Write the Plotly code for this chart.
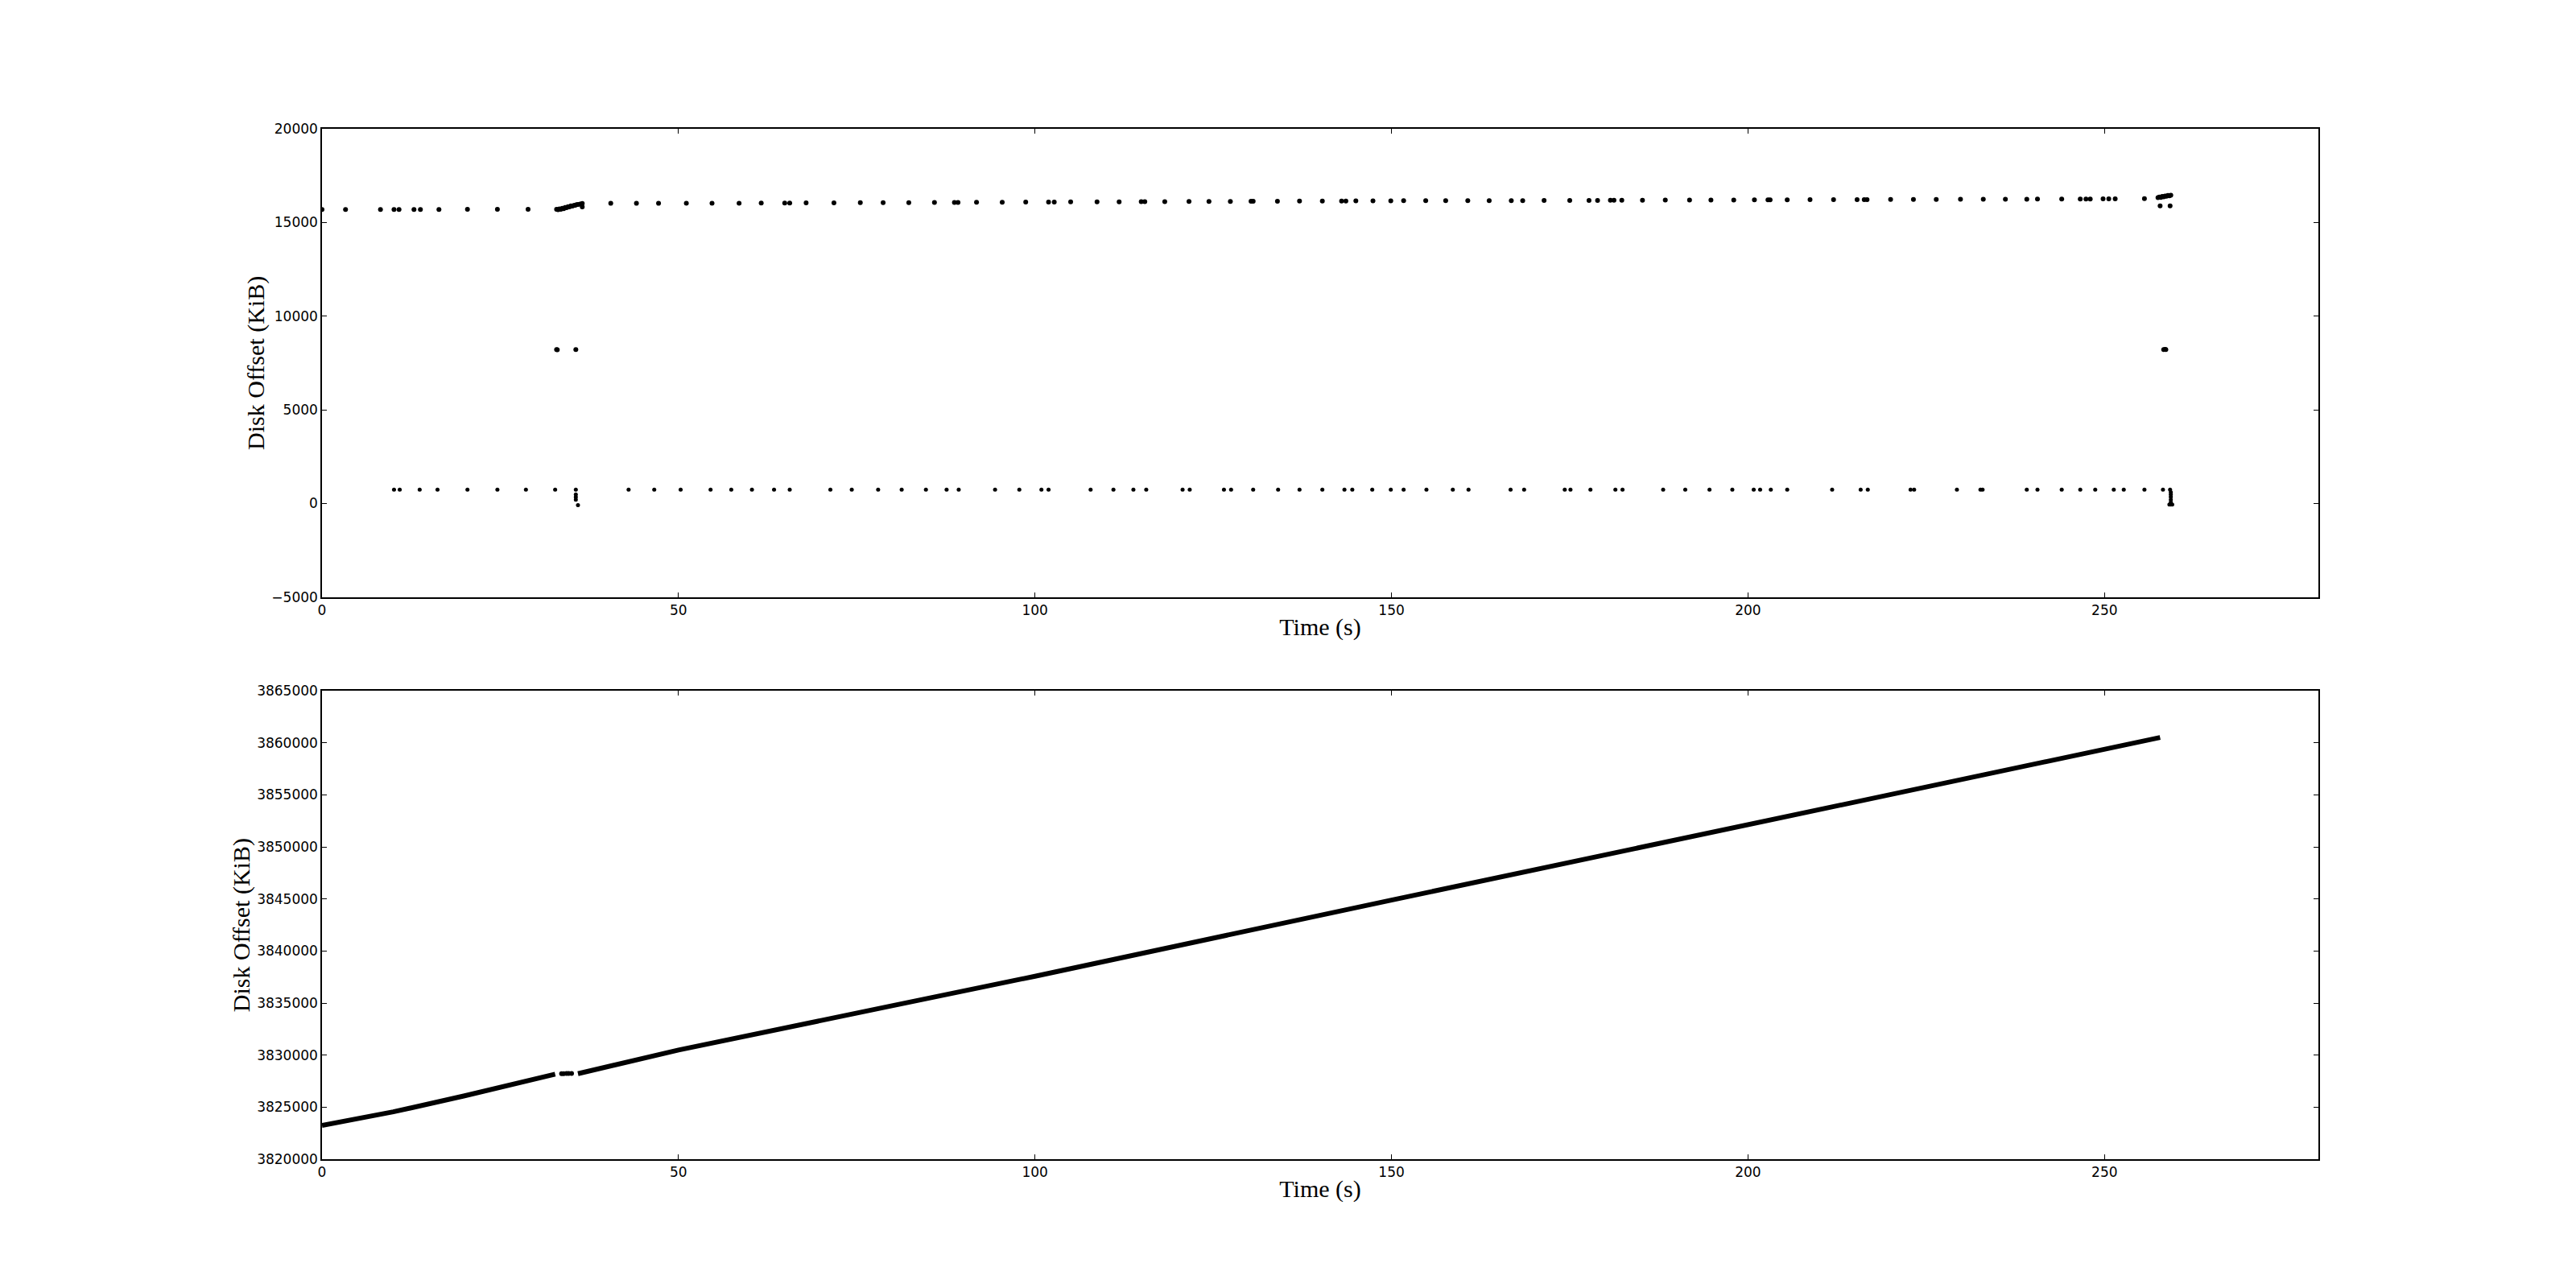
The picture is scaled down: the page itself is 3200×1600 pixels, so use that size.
import plotly.graph_objects as go

# ---------------- top panel data (Time s, Disk offset KiB) ----------------
upper_t = [0, 3.3, 8.2, 10.1, 10.8, 12.9, 13.8, 16.4, 20.4, 24.6, 28.9,
           32.9, 33.1, 33.3, 33.5, 33.7, 33.9, 34.1, 34.3, 34.5, 34.7, 34.9, 35.1,
           35.3, 35.5, 35.7, 35.9, 36.2, 36.5, 36.5,
           40.5, 44.1, 47.2, 51.1, 54.7, 58.5, 61.6, 64.9, 65.6, 67.9, 71.8, 75.5,
           78.7, 82.3, 85.9, 88.7, 89.2, 91.8, 95.4, 98.7, 101.9, 102.7, 105.0,
           108.7, 111.8, 114.9, 115.4, 118.2, 121.6, 124.4, 127.4, 130.3, 130.6,
           134.0, 137.1, 140.3, 143.0, 143.6, 145.0, 147.4, 149.9, 151.7, 154.8,
           157.6, 160.7, 163.7, 166.8, 168.4, 171.4, 175.0, 177.7, 178.9, 180.7,
           181.2, 182.3, 185.2, 188.4, 191.8, 194.8, 198.0, 200.9, 202.8, 203.1,
           205.5, 208.7, 212.0, 215.3, 216.3, 216.7, 220.0, 223.2, 226.4, 229.8,
           233.0, 236.1, 239.1, 240.6, 244.0, 246.6, 247.4, 248.0, 249.8, 250.6,
           251.5, 255.6,
           257.5, 257.7, 257.9, 258.1, 258.3, 258.5, 258.7, 258.9, 259.1, 259.3,
           257.8, 259.2]
upper_kib = [15690, 15690, 15690, 15690, 15690, 15690, 15690, 15690, 15700, 15700, 15700,
             15700, 15680, 15720, 15700, 15760, 15740, 15800, 15790, 15840, 15830, 15880, 15870,
             15910, 15920, 15950, 15960, 15980, 16010, 15830,
             16020, 16020, 16020, 16030, 16030, 16030, 16040, 16040, 16040, 16050, 16050, 16060,
             16060, 16060, 16070, 16070, 16070, 16080, 16080, 16090, 16090, 16090, 16100,
             16100, 16100, 16110, 16110, 16110, 16120, 16120, 16120, 16130, 16130,
             16130, 16140, 16140, 16140, 16140, 16150, 16150, 16150, 16160, 16160,
             16160, 16170, 16170, 16170, 16170, 16180, 16180, 16180, 16180, 16190,
             16190, 16190, 16190, 16200, 16200, 16200, 16200, 16210, 16210, 16210,
             16210, 16220, 16220, 16220, 16220, 16220, 16230, 16230, 16230, 16240,
             16240, 16240, 16240, 16250, 16250, 16250, 16250, 16250, 16260, 16260,
             16260, 16270,
             16330, 16360, 16340, 16390, 16370, 16410, 16400, 16440, 16420, 16460,
             15880, 15880]

mid_t = [32.9, 33.0, 35.6, 258.3, 258.5, 258.6]
mid_kib = [8220, 8200, 8220, 8210, 8230, 8220]

lower_t = [10.1, 10.9, 13.7, 16.2, 20.4, 24.6, 28.6, 32.7, 35.6, 43.0, 46.6, 50.3,
           54.5, 57.4, 60.3, 63.4, 65.6, 71.3, 74.3, 78.0, 81.3, 84.7, 87.6, 89.3,
           94.4, 97.8, 100.9, 101.9, 107.8, 111.0, 113.8, 115.6, 120.7, 121.7,
           126.5, 127.5, 130.6, 134.1, 137.1, 140.3, 143.4, 144.5, 147.3, 149.9,
           151.7, 154.9, 158.6, 160.8, 166.7, 168.6, 174.3, 175.1, 177.9, 181.4,
           182.4, 188.1, 191.2, 194.6, 197.8, 200.8, 201.7, 203.2, 205.5, 211.8,
           215.8, 216.8, 222.8, 223.3, 229.3, 232.6, 232.9, 239.1, 240.6, 244.0,
           246.6, 248.7, 251.3, 252.7, 255.6, 258.2, 259.2,
           35.6, 35.6, 35.6, 35.9,
           259.3, 259.3, 259.3, 259.3, 259.3, 259.1, 259.3, 259.5]
lower_kib = [740] * 81 + [480, 340, 200, -90,
                          600, 480, 350, 200, 60, -60, -60, -60]

# ---------------- bottom panel data ----------------
seq1_t = [0, 5, 10, 20, 22.6, 30, 32.7]
seq1_kib = [3823250, 3823900, 3824550, 3826090, 3826500, 3827680, 3828170]
gap_t = [33.6, 33.9, 34.3, 34.6, 35.0]
gap_kib = [3828220, 3828220, 3828230, 3828230, 3828230]
seq2_t = [35.9, 50, 79, 100, 150, 200, 225.9, 250, 257.8]
seq2_kib = [3828220, 3830490, 3834610, 3837580, 3844900, 3852100, 3855940, 3859330, 3860520]

x_ticks = [0, 50, 100, 150, 200, 250]

BLACK = "#000000"
dot = dict(color=BLACK, size=6, line=dict(width=0))

fig = go.Figure()
fig.add_trace(go.Scatter(x=upper_t, y=upper_kib, mode="markers", marker=dot,
                         xaxis="x", yaxis="y", showlegend=False))
fig.add_trace(go.Scatter(x=mid_t, y=mid_kib, mode="markers", marker=dot,
                         xaxis="x", yaxis="y", showlegend=False))
fig.add_trace(go.Scatter(x=lower_t, y=lower_kib, mode="markers", marker=dict(color=BLACK, size=5),
                         xaxis="x", yaxis="y", showlegend=False))

fig.add_trace(go.Scatter(x=seq1_t, y=seq1_kib, mode="lines", line=dict(color=BLACK, width=6),
                         xaxis="x2", yaxis="y2", showlegend=False))
fig.add_trace(go.Scatter(x=gap_t, y=gap_kib, mode="markers", marker=dict(color=BLACK, size=6),
                         xaxis="x2", yaxis="y2", showlegend=False))
fig.add_trace(go.Scatter(x=seq2_t, y=seq2_kib, mode="lines", line=dict(color=BLACK, width=6),
                         xaxis="x2", yaxis="y2", showlegend=False))

tickfont = dict(family="DejaVu Sans", size=17, color=BLACK)
titlefont = dict(family="Liberation Serif", size=30, color=BLACK)

common = dict(showline=True, linecolor=BLACK, linewidth=1.5, mirror="ticks",
              ticks="inside", ticklen=6, tickwidth=1, tickcolor=BLACK,
              showgrid=False, zeroline=False, tickfont=tickfont, automargin=False)

fig.update_layout(
    template="none",
    width=3200, height=1600, autosize=False,
    margin=dict(l=0, r=0, t=0, b=0, pad=0),
    paper_bgcolor="white", plot_bgcolor="white",
    xaxis=dict(domain=[0.125, 0.9], anchor="y", range=[0, 280], tickvals=x_ticks,
               title=dict(text="Time (s)", font=titlefont, standoff=1), **common),
    yaxis=dict(domain=[0.5364, 0.9], anchor="x", range=[-5000, 20000], dtick=5000,
               tick0=0, tickformat="d",
               title=dict(text="Disk Offset (KiB)", font=titlefont, standoff=0), **common),
    xaxis2=dict(domain=[0.125, 0.9], anchor="y2", range=[0, 280], tickvals=x_ticks,
                title=dict(text="Time (s)", font=titlefont, standoff=1), **common),
    yaxis2=dict(domain=[0.1, 0.4636], anchor="x2", range=[3820000, 3865000], dtick=5000,
                tick0=0, tickformat="d",
                title=dict(text="Disk Offset (KiB)", font=titlefont, standoff=0), **common),
)

fig.write_html("out.html")
